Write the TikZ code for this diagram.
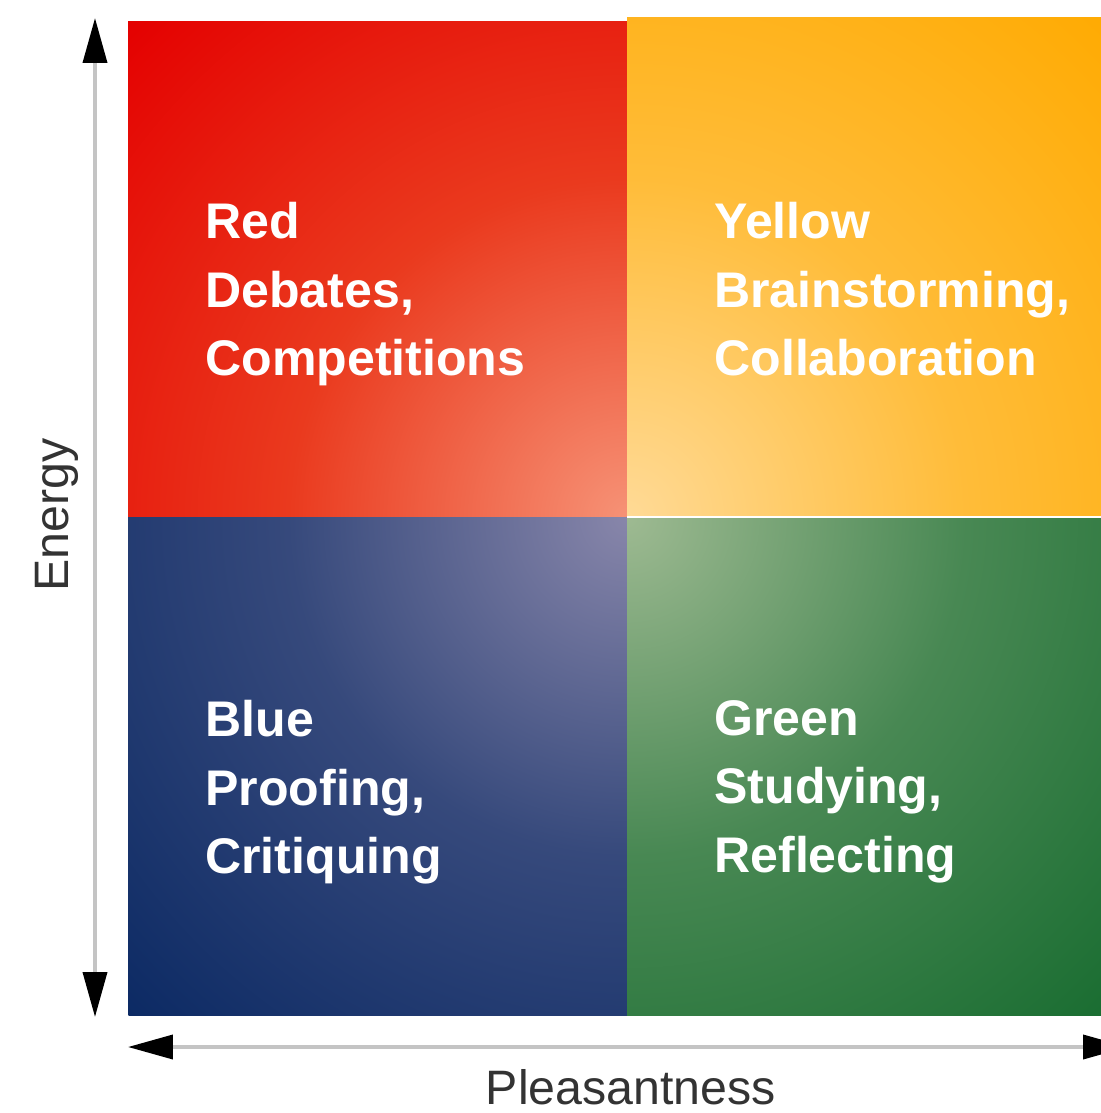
\documentclass[tikz,border=0pt]{standalone}
\usepackage{fontspec}
\setmainfont{Liberation Sans}
\usetikzlibrary{calc,arrows.meta}

\definecolor{redout}{RGB}{228,0,0}
\definecolor{redmid}{RGB}{234,58,30}
\definecolor{redin}{RGB}{246,146,118}
\definecolor{yelout}{RGB}{255,170,0}
\definecolor{yelin}{RGB}{255,218,150}
\definecolor{bluout}{RGB}{12,42,100}
\definecolor{bluin}{RGB}{136,134,170}
\definecolor{grnout}{RGB}{24,108,48}
\definecolor{grnin}{RGB}{158,186,146}
\definecolor{axisgray}{RGB}{196,196,196}

% radial shadings, light at the centre and saturated well before the rim
\pgfdeclareradialshading{redquad}{\pgfpoint{0bp}{0bp}}{color(0bp)=(redin); color(12bp)=(redmid); color(25bp)=(redout); color(50bp)=(redout)}
\pgfdeclareradialshading{yelquad}{\pgfpoint{0bp}{0bp}}{color(0bp)=(yelin); color(12bp)=(yelout!62!yelin); color(25bp)=(yelout); color(50bp)=(yelout)}
\pgfdeclareradialshading{bluquad}{\pgfpoint{0bp}{0bp}}{color(0bp)=(bluin); color(12bp)=(bluout!66!bluin); color(25bp)=(bluout); color(50bp)=(bluout)}
\pgfdeclareradialshading{grnquad}{\pgfpoint{0bp}{0bp}}{color(0bp)=(grnin); color(12bp)=(grnout!64!grnin); color(25bp)=(grnout); color(50bp)=(grnout)}

\begin{document}
\begin{tikzpicture}[x=0.02cm,y=-0.02cm,
    quadtext/.style={anchor=north west,inner sep=0pt,align=left,text=white,
      font=\fontsize{28.5}{39}\selectfont\bfseries},
    axislabel/.style={inner sep=0pt,text=black!80,font=\fontsize{27.5}{30}\selectfont},
    axisline/.style={line width=0.075cm,draw=axisgray,
      {Triangle[width=0.48cm,length=0.9cm,color=black]}-{Triangle[width=0.48cm,length=0.9cm,color=black]}}]
    \useasboundingbox (0,0) rectangle (1101,1113);
    \coordinate (mid) at (627,517);
    % the four quadrants, lighter toward the middle corner
    \begin{scope}
        \clip (128,21) rectangle (mid);
        \shade[shading=redquad] (mid) circle (14.1cm);
    \end{scope}
    \begin{scope}
        \clip (627,17) rectangle (1110,517);
        \shade[shading=yelquad] (mid) circle (14.1cm);
    \end{scope}
    \begin{scope}
        \clip (128,517) rectangle (627,1015);
        \shade[shading=bluquad] (mid) circle (14.1cm);
    \end{scope}
    \begin{scope}
        \clip (mid) rectangle (1110,1015);
        \shade[shading=grnquad] (mid) circle (14.1cm);
    \end{scope}
    \draw[white,line width=0.04cm] (mid) -- (1110,517);

    \node[quadtext] (red) at (205,202) {Red\\Debates,\\Competitions};
    \node[quadtext] (yellow) at (714,202) {Yellow\\Brainstorming,\\Collaboration};
    \node[quadtext] (blue) at (205,700) {Blue\\Proofing,\\Critiquing};
    \node[quadtext] (green) at (714,700) {Green\\Studying,\\Reflecting};

    % axes
    \coordinate (etop) at (95,18);
    \coordinate (ebot) at (95,1017);
    \coordinate (pleft) at (128,1047);
    \coordinate (pright) at (1128,1047);
    \draw[axisline] (ebot) -- (etop);
    \draw[axisline] (pleft) -- (pright);
    \node[axislabel,rotate=90] (energy) at (57,515) {Energy};
    \node[axislabel] (pleasant) at (631,1087) {Pleasantness};
\end{tikzpicture}
\end{document}
